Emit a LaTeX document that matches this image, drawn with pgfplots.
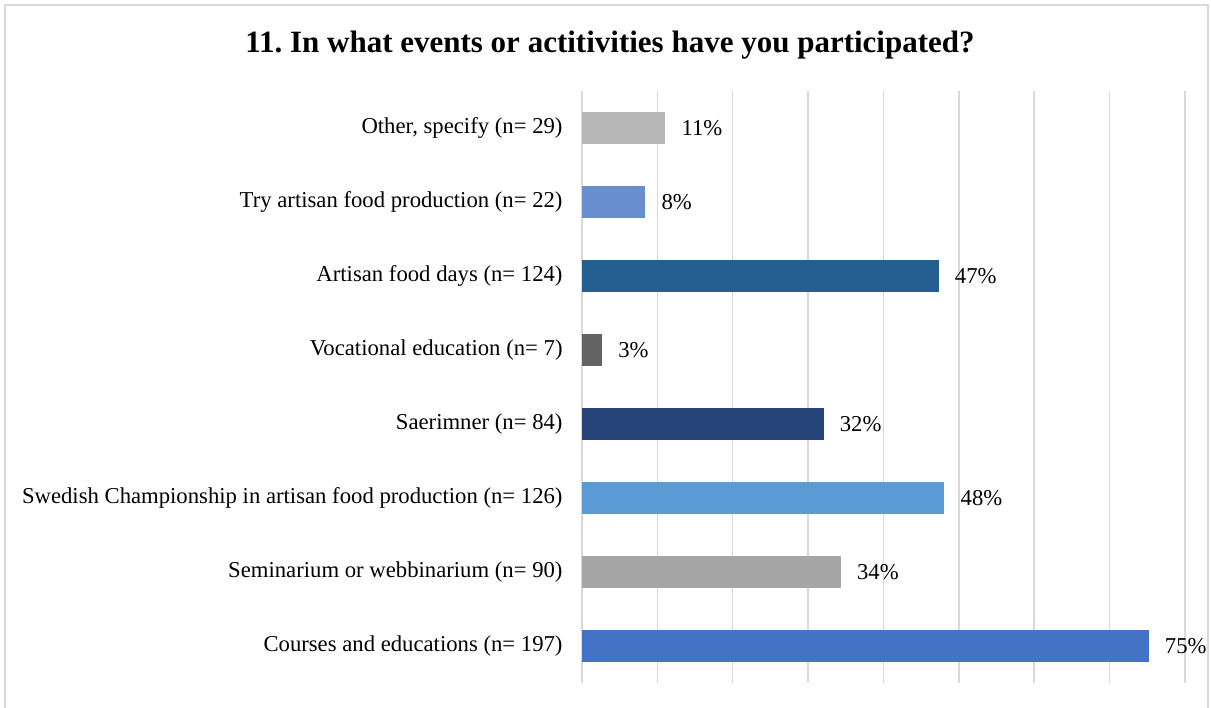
\documentclass[border=0pt]{standalone}
\usepackage{pgfplots}
\pgfplotsset{compat=1.18}
\usepackage{fontspec}
\setmainfont{Liberation Serif}
\definecolor{cOther}{HTML}{B7B7B7}
\definecolor{cTry}{HTML}{698ED0}
\definecolor{cDays}{HTML}{255E91}
\definecolor{cVoc}{HTML}{636363}
\definecolor{cSaer}{HTML}{264478}
\definecolor{cSwe}{HTML}{5B9BD5}
\definecolor{cSem}{HTML}{A5A5A5}
\definecolor{cCour}{HTML}{4472C4}
\definecolor{gridc}{HTML}{D9D9D9}
\frenchspacing
\begin{document}
\begin{tikzpicture}[x=1pt,y=1pt]
\path[use as bounding box] (0,0) rectangle (1211,708);
\draw[gridc, line width=1.5pt] (5,-10) rectangle (1208,703);
\node[font=\fontsize{31}{36}\selectfont\bfseries] at (610,663) {11. In what events or actitivities have you participated?};
\begin{axis}[
  at={(582pt,25pt)}, anchor=south west,
  scale only axis, width=603pt, height=592pt,
  xmin=0, xmax=80, ymin=0.5, ymax=8.5,
  xtick={0,10,...,80}, xticklabels={},
  xmajorgrids, grid style={gridc, line width=1.5pt},
  axis line style={draw=none},
  tick style={draw=none},
  ytick={1,...,8},
  yticklabels={Courses and educations (n= 197),Seminarium or webbinarium (n= 90),Swedish Championship in artisan food production (n= 126),Saerimner (n= 84),Vocational education (n= 7),Artisan food days (n= 124),Try artisan food production (n= 22),{Other, specify (n= 29)}},
  yticklabel style={font=\fontsize{22.7}{27}\selectfont, inner sep=0pt, xshift=-15pt},
  xbar, bar width=32pt, bar shift=0pt,
  /pgf/number format/assume math mode=true,
  nodes near coords={\pgfmathprintnumber[fixed,precision=0]{\pgfplotspointmeta}\%},
  point meta=x,
  nodes near coords style={font=\fontsize{22.7}{27}\selectfont, anchor=west, inner sep=0pt, xshift=16pt},
  clip=false,
]
\addplot[fill=cCour, draw=none] coordinates {(75.19,1)};
\addplot[fill=cSem, draw=none] coordinates {(34.35,2)};
\addplot[fill=cSwe, draw=none] coordinates {(48.09,3)};
\addplot[fill=cSaer, draw=none] coordinates {(32.06,4)};
\addplot[fill=cVoc, draw=none] coordinates {(2.67,5)};
\addplot[fill=cDays, draw=none] coordinates {(47.33,6)};
\addplot[fill=cTry, draw=none] coordinates {(8.40,7)};
\addplot[fill=cOther, draw=none] coordinates {(11.07,8)};
\end{axis}
\end{tikzpicture}
\end{document}
